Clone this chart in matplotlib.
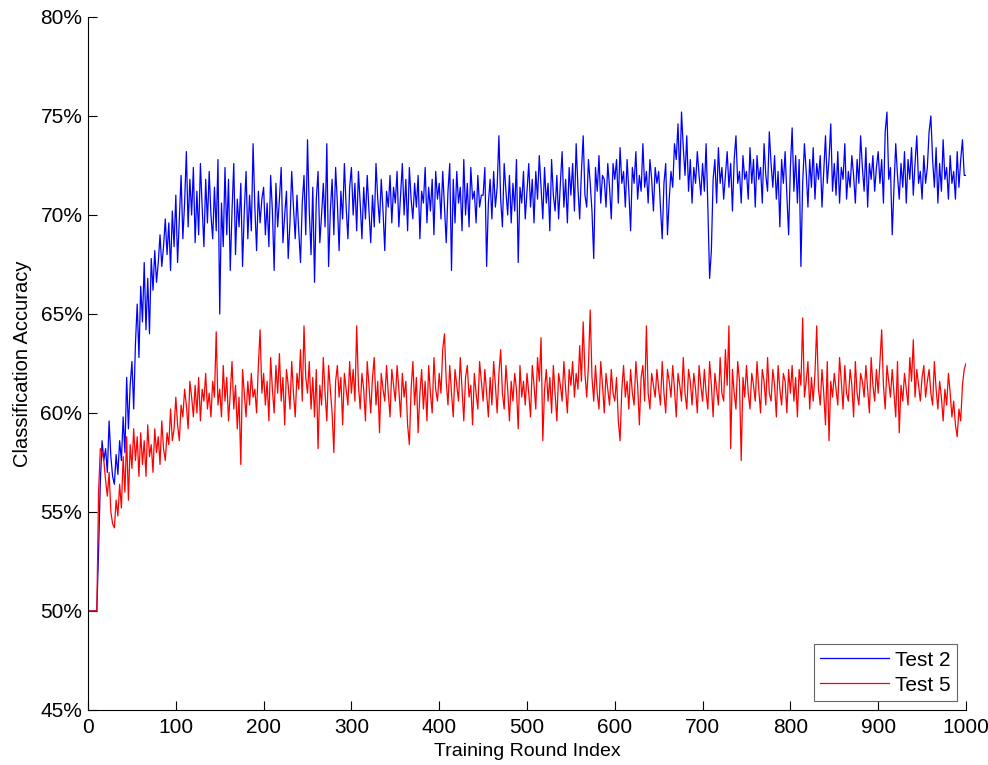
import numpy as np
import matplotlib
matplotlib.use("Agg")
import matplotlib.pyplot as plt
from matplotlib.ticker import FuncFormatter

# training rounds (every 2nd round)
rounds = np.arange(0, 1001, 2)

# Test 2 accuracy (%), 25 values per 50 rounds
test2 = [
    50.0, 50.0, 50.0, 50.0, 50.0, 50.0, 53.0, 56.5, 58.6, 57.6, 58.2, 57.0, 59.6, 57.8, 56.8, 56.4, 57.9, 56.9, 58.6, 57.6, 59.8, 58.0, 61.8, 59.2, 61.4,
    62.6, 60.2, 63.5, 65.5, 62.8, 66.4, 64.6, 67.6, 64.2, 66.8, 64.0, 67.8, 66.2, 68.2, 66.6, 67.6, 69.0, 67.4, 68.4, 69.8, 68.0, 69.6, 67.2, 70.2, 68.4,
    71.0, 67.6, 69.8, 72.0, 68.8, 70.6, 73.2, 69.4, 71.8, 70.0, 72.4, 68.6, 71.2, 69.0, 72.6, 70.4, 68.4, 71.8, 69.6, 72.2, 70.0, 68.8, 71.4, 69.2, 72.8,
    65.0, 70.6, 68.4, 72.4, 69.0, 71.8, 67.2, 70.2, 72.6, 68.0, 70.8, 69.4, 71.6, 67.4, 70.2, 72.2, 68.8, 71.0, 69.2, 73.6, 70.4, 68.2, 71.2, 69.6, 70.8,
    71.4, 69.0, 70.6, 68.4, 72.0, 70.2, 67.2, 71.6, 69.4, 70.8, 72.4, 68.6, 70.0, 71.2, 67.8, 69.6, 72.2, 70.4, 68.8, 71.0, 69.2, 67.6, 70.6, 72.0, 69.0,
    73.8, 70.2, 68.0, 71.4, 66.6, 70.8, 72.2, 68.6, 70.0, 71.6, 69.4, 73.6, 67.4, 70.2, 71.8, 69.0, 72.4, 70.6, 68.2, 71.2, 69.8, 72.6, 70.4, 68.8, 71.4,
    72.4, 70.0, 71.6, 69.2, 72.2, 70.6, 68.8, 71.4, 69.8, 72.0, 70.2, 68.6, 71.0, 69.4, 72.6, 70.8, 69.6, 71.8, 70.2, 68.2, 71.2, 70.4, 72.0, 69.6, 71.4,
    70.6, 72.2, 69.4, 71.0, 72.6, 70.0, 71.8, 69.2, 72.4, 70.8, 69.8, 71.6, 70.4, 72.0, 68.8, 71.2, 70.6, 72.4, 69.6, 71.4, 70.2, 71.8, 69.0, 72.2, 70.8,
    71.6, 69.8, 72.2, 70.4, 68.6, 71.2, 72.6, 67.2, 71.8, 69.6, 72.2, 70.6, 71.4, 69.2, 72.8, 70.0, 71.6, 69.4, 72.4, 70.8, 71.2, 69.6, 72.0, 70.4, 71.0,
    71.0, 72.4, 67.4, 70.6, 71.8, 69.8, 72.2, 70.4, 71.4, 74.0, 70.8, 69.4, 72.6, 71.2, 70.0, 72.0, 69.6, 71.6, 70.2, 72.8, 67.6, 71.4, 70.6, 72.2, 69.8,
    71.2, 72.6, 70.4, 71.8, 69.6, 72.2, 70.8, 73.0, 71.4, 69.8, 72.4, 70.6, 71.6, 69.2, 72.8, 71.0, 70.2, 72.0, 69.8, 71.6, 73.2, 70.4, 71.8, 69.6, 72.4,
    71.0, 72.6, 70.2, 73.6, 71.4, 69.8, 72.2, 74.0, 71.0, 70.4, 72.8, 71.6, 70.2, 67.8, 72.4, 71.2, 73.0, 70.6, 72.0, 71.8, 70.4, 72.6, 71.4, 69.8, 72.6,
    71.8, 72.8, 70.6, 73.4, 71.6, 72.2, 70.4, 72.8, 71.2, 69.2, 72.4, 71.6, 73.2, 70.8, 72.0, 71.2, 73.6, 71.4, 72.2, 70.6, 72.8, 71.8, 70.2, 72.4, 71.6,
    72.2, 70.4, 68.8, 71.6, 72.6, 69.0, 70.8, 72.2, 71.4, 73.6, 72.8, 74.6, 71.8, 75.2, 73.4, 72.0, 74.0, 71.2, 72.8, 70.6, 72.4, 71.6, 73.2, 72.0, 71.0,
    72.6, 71.2, 73.6, 70.4, 66.8, 68.2, 71.8, 72.8, 70.6, 73.4, 71.6, 72.4, 70.8, 72.0, 73.2, 71.4, 72.6, 70.2, 72.8, 74.0, 71.6, 72.2, 70.6, 73.0, 71.8,
    72.2, 70.8, 73.4, 71.6, 72.8, 70.4, 73.0, 71.8, 72.4, 70.6, 73.6, 72.0, 71.2, 74.2, 72.6, 71.4, 73.0, 70.8, 72.2, 69.4, 72.8, 71.6, 73.2, 71.0, 69.0,
    72.4, 74.4, 71.2, 73.0, 70.6, 72.8, 67.4, 71.6, 73.6, 72.2, 70.4, 72.8, 71.4, 73.4, 70.8, 72.6, 71.8, 73.0, 70.4, 72.2, 74.0, 71.6, 72.8, 74.6, 71.2,
    72.6, 71.0, 73.2, 70.6, 72.4, 71.8, 73.6, 70.8, 72.2, 71.4, 73.0, 72.0, 70.6, 72.8, 71.6, 74.0, 72.4, 71.2, 73.4, 70.4, 72.6, 71.8, 73.0, 71.2, 72.4,
    73.2, 71.6, 72.8, 70.6, 74.2, 75.2, 71.8, 72.4, 69.0, 71.4, 73.6, 72.0, 70.8, 72.6, 71.4, 73.2, 70.6, 72.8, 71.8, 73.4, 71.0, 72.6, 74.0, 71.6, 72.2,
    70.8, 73.0, 71.6, 72.4, 74.2, 75.0, 72.8, 71.4, 73.4, 70.6, 72.6, 71.2, 73.8, 71.8, 72.4, 70.8, 73.0, 71.6, 72.2, 70.8, 73.2, 71.4, 72.8, 73.8, 72.0,
    72.0,
]

# Test 5 accuracy (%)
test5 = [
    50.0, 50.0, 50.0, 50.0, 50.0, 50.0, 56.0, 58.2, 58.0, 57.6, 56.6, 55.8, 57.0, 55.0, 54.4, 54.2, 55.6, 54.8, 56.4, 55.2, 57.8, 56.0, 58.8, 55.6, 58.4,
    57.2, 59.2, 57.6, 58.8, 56.8, 59.0, 57.4, 58.6, 56.8, 59.4, 57.8, 58.4, 57.0, 59.2, 58.0, 58.8, 57.4, 59.6, 58.2, 57.6, 59.0, 58.4, 60.2, 58.6, 59.2,
    60.8, 59.4, 58.6, 60.4, 59.8, 61.2, 60.4, 59.2, 61.6, 60.8, 59.8, 61.4, 60.0, 61.8, 59.6, 61.2, 60.6, 62.0, 60.2, 61.0, 59.8, 61.6, 60.8, 64.1, 60.4,
    61.2, 59.8, 62.4, 60.6, 61.8, 59.6, 61.0, 62.6, 60.2, 61.4, 59.2, 60.8, 57.4, 62.2, 61.0, 59.8, 61.6, 60.4, 62.0, 60.8, 61.2, 60.0, 62.4, 64.2, 61.0,
    62.0, 60.4, 61.6, 59.6, 62.8, 61.2, 60.0, 62.4, 61.0, 63.0, 60.6, 61.8, 59.4, 62.2, 61.4, 60.2, 62.6, 61.0, 59.8, 62.0, 61.2, 63.2, 60.6, 64.4, 61.8,
    61.0, 62.6, 60.2, 61.8, 59.8, 62.2, 58.2, 61.4, 60.4, 62.8, 61.0, 59.6, 62.4, 61.2, 60.0, 58.0, 61.6, 62.4, 60.8, 61.8, 59.4, 62.0, 61.2, 60.4, 62.6,
    61.0, 62.2, 60.6, 64.4, 61.4, 60.2, 62.0, 61.2, 59.6, 62.6, 61.4, 60.0, 61.8, 62.8, 60.4, 61.6, 59.0, 62.0, 61.2, 60.6, 62.4, 61.0, 59.8, 62.2, 61.4,
    60.6, 62.4, 61.2, 59.8, 62.0, 60.8, 61.6, 59.4, 58.4, 61.2, 62.6, 60.4, 61.8, 59.0, 61.0, 62.2, 60.2, 61.6, 59.6, 62.4, 61.0, 60.0, 62.8, 61.2, 60.6,
    62.0, 61.0, 63.2, 64.0, 61.6, 60.4, 62.4, 61.0, 59.8, 62.2, 61.4, 60.6, 62.8, 61.2, 59.6, 61.8, 62.4, 60.8, 61.4, 59.4, 62.0, 61.0, 60.2, 62.6, 61.6,
    60.6, 62.2, 61.0, 59.8, 61.8, 60.4, 62.6, 61.4, 60.0, 62.0, 63.2, 61.0, 60.2, 62.4, 61.2, 59.6, 61.6, 60.6, 62.0, 61.2, 59.2, 62.4, 60.8, 61.6, 60.4,
    62.0, 61.0, 59.8, 62.4, 61.4, 60.2, 62.8, 61.6, 63.8, 58.6, 61.2, 62.2, 60.6, 61.8, 60.0, 62.4, 61.0, 59.6, 62.0, 61.4, 60.6, 62.6, 61.2, 60.0, 62.2,
    61.4, 62.6, 60.8, 62.0, 61.2, 63.4, 61.6, 64.6, 62.0, 60.8, 62.4, 65.2, 61.8, 60.6, 62.4, 61.0, 60.2, 62.6, 61.4, 60.0, 62.0, 61.2, 60.4, 62.2, 61.0,
    60.6, 61.8, 59.6, 58.6, 61.2, 62.4, 60.8, 61.6, 60.2, 62.2, 61.0, 60.4, 62.6, 61.4, 59.4, 61.8, 62.4, 60.6, 64.4, 61.0, 60.2, 62.0, 61.4, 60.8, 62.2,
    61.2, 60.4, 62.6, 61.0, 60.0, 62.2, 61.6, 60.8, 62.4, 61.2, 59.8, 62.0, 61.4, 60.6, 62.8, 61.0, 60.2, 62.2, 61.6, 60.4, 62.0, 61.2, 60.0, 62.4, 61.4,
    60.6, 62.2, 61.0, 60.2, 62.6, 61.4, 59.8, 62.0, 61.2, 60.4, 62.8, 61.0, 60.6, 63.2, 61.4, 64.4, 58.2, 62.2, 61.0, 60.2, 62.6, 61.6, 57.6, 61.8, 60.8,
    62.4, 61.0, 60.2, 62.0, 61.4, 60.6, 62.6, 61.2, 60.0, 62.2, 61.6, 60.4, 62.8, 61.0, 60.6, 62.2, 61.4, 59.8, 62.4, 61.2, 60.4, 62.0, 61.6, 60.0, 62.2,
    61.0, 62.4, 60.6, 61.8, 59.8, 62.2, 61.4, 64.8, 60.8, 61.6, 62.6, 60.2, 61.8, 60.6, 62.0, 64.4, 61.2, 60.4, 62.2, 61.0, 59.4, 62.6, 58.6, 61.6, 60.8,
    62.0, 61.2, 60.4, 62.8, 61.6, 60.2, 62.4, 61.0, 60.6, 62.2, 61.4, 59.8, 62.6, 61.0, 60.4, 62.0, 61.6, 60.8, 62.4, 61.2, 60.0, 62.8, 61.4, 60.6, 62.2,
    61.0, 62.6, 64.2, 61.4, 60.2, 62.4, 61.6, 60.8, 62.2, 61.0, 59.8, 62.6, 59.0, 61.4, 60.6, 62.0, 61.2, 60.4, 62.8, 61.6, 63.7, 60.8, 62.2, 61.4, 60.6,
    61.8, 62.4, 60.8, 61.6, 62.2, 61.0, 60.4, 62.6, 61.2, 60.2, 61.6, 60.8, 59.6, 61.2, 60.4, 62.0, 61.0, 59.8, 60.6, 59.4, 58.8, 60.2, 59.6, 61.4, 62.2,
    62.5,
]

xticks = list(range(0, 1001, 100))
yticks = list(range(45, 81, 5))

plt.rcParams["font.family"] = ["Liberation Sans", "DejaVu Sans"]

fig = plt.figure(figsize=(9.88, 7.65), dpi=100)
ax = fig.add_axes([0.0891, 0.0719, 0.8886, 0.9059])

ax.plot(rounds, test2, color="#0000ff", lw=0.9, label="Test 2")
ax.plot(rounds, test5, color="#ff0000", lw=0.9, label="Test 5")

ax.set_xlim(0, 1000)
ax.set_ylim(45, 80)
ax.set_xticks(xticks)
ax.set_yticks(yticks)
ax.yaxis.set_major_formatter(FuncFormatter(lambda v, p: f"{v:.0f}%"))
ax.tick_params(direction="in", length=6.5, width=0.8, labelsize=15, colors="black")
ax.tick_params(axis="x", pad=6)
ax.tick_params(axis="y", pad=4)
ax.spines["top"].set_visible(False)
ax.spines["right"].set_visible(False)
for s in ("left", "bottom"):
    ax.spines[s].set_linewidth(0.8)

ax.set_xlabel("Training Round Index", fontsize=14, labelpad=4)
ax.set_ylabel("Classification Accuracy", fontsize=14.5, labelpad=6)

leg = ax.legend(loc="lower right", fontsize=15, fancybox=False, framealpha=1,
                edgecolor="0.4", handlelength=3.3, handletextpad=0.3,
                labelspacing=0.3, borderpad=0.3, borderaxespad=0.43)
leg.get_frame().set_linewidth(0.8)

fig.savefig("out.png", dpi=100)
